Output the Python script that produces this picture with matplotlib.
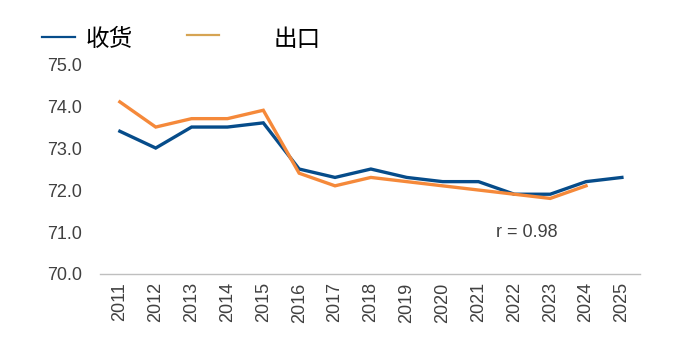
import matplotlib
matplotlib.use("Agg")
import matplotlib.pyplot as plt
from matplotlib.lines import Line2D

plt.rcParams["font.family"] = ["Liberation Sans", "Noto Sans CJK SC", "DejaVu Sans"]

# ── Data ─────────────────────────────────────────────
years = list(range(2011, 2026))
receipts = [73.4, 73.0, 73.5, 73.5, 73.6, 72.5, 72.3, 72.5, 72.3, 72.2,
            72.2, 71.9, 71.9, 72.2, 72.3]
exports = [74.1, 73.5, 73.7, 73.7, 73.9, 72.4, 72.1, 72.3, 72.2, 72.1,
           72.0, 71.9, 71.8, 72.1]
y_ticks = [70.0, 71.0, 72.0, 73.0, 74.0, 75.0]

BLUE   = "#064C8A"
ORANGE = "#F5893A"
GOLD   = "#D6A453"
TICK   = "#404040"

fig = plt.figure(figsize=(6.88, 3.54), dpi=100)
ax = fig.add_axes([0.145, 0.226, 0.785, 0.593])

ax.plot(years, receipts, color=BLUE, lw=2.4, solid_joinstyle="miter")
ax.plot(years[:len(exports)], exports, color=ORANGE, lw=2.4, solid_joinstyle="miter")

ax.set_xlim(2010.44, 2025.5)
ax.set_ylim(70, 75)
ax.set_yticks(y_ticks)
ax.set_yticklabels([f"{v:.1f}" for v in y_ticks])
ax.set_xticks(years)
ax.set_xticklabels([str(y) for y in years], rotation=90)
ax.tick_params(axis="both", length=0, labelsize=13, colors=TICK)
ax.tick_params(axis="y", pad=13)
ax.tick_params(axis="x", pad=6)

for s in ["top", "right", "left"]:
    ax.spines[s].set_visible(False)
ax.spines["bottom"].set_color("#BFBFBF")
ax.spines["bottom"].set_linewidth(1.0)

ax.text(2022.35, 71.0, "r = 0.98", fontsize=13, color=TICK, ha="center", va="center")

# ── Legend (drawn manually) ──────────────────────────
cjk = ["Noto Sans CJK SC", "DejaVu Sans"]
fig.add_artist(Line2D([42/688, 75/688], [1-37/354, 1-37/354], color=BLUE, lw=1.6))
fig.text(86/688, 1-40/354, "收货", fontsize=17, color="black",
         family=cjk, fontweight="light", va="center")
fig.add_artist(Line2D([187/688, 219/688], [1-35/354, 1-35/354], color=GOLD, lw=1.6))
fig.text(274/688, 1-40/354, "出口", fontsize=17, color="black",
         family=cjk, fontweight="light", va="center")

fig.savefig("out.png", dpi=100, facecolor="white")
